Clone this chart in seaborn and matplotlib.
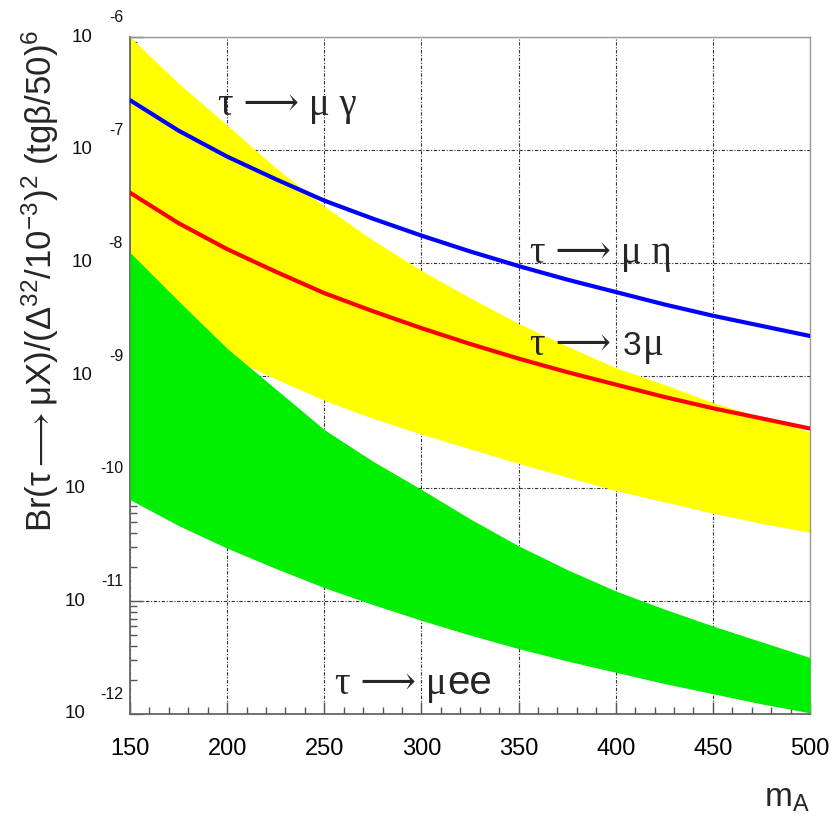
import numpy as np
import pandas as pd
import matplotlib
matplotlib.use("Agg")
import matplotlib.pyplot as plt
import matplotlib.ticker as mticker
import seaborn as sns

# masa m_A i log10 vrijednosti ocitane sa slike
m_A = [150, 175, 200, 225, 250, 275, 300, 325, 350, 375, 400, 425, 450, 475, 500]

mu_eta_log = [-6.56, -6.83, -7.06, -7.26, -7.45, -7.61, -7.76, -7.90, -8.03, -8.15, -8.26, -8.37, -8.47, -8.56, -8.65]
three_mu_log = [-7.38, -7.65, -7.88, -8.08, -8.27, -8.43, -8.58, -8.72, -8.85, -8.97, -9.08, -9.19, -9.29, -9.38, -9.47]

mu_gamma_hi = [-6.00, -6.41, -6.78, -7.16, -7.50, -7.80, -8.07, -8.31, -8.54, -8.74, -8.93, -9.08, -9.24, -9.37, -9.50]
mu_gamma_lo = [-8.33, -8.60, -8.83, -9.03, -9.22, -9.38, -9.52, -9.65, -9.78, -9.90, -10.02, -10.12, -10.22, -10.31, -10.39]

mu_ee_hi = [-7.91, -8.34, -8.76, -9.12, -9.48, -9.76, -10.01, -10.27, -10.51, -10.72, -10.91, -11.07, -11.22, -11.36, -11.50]
mu_ee_lo = [-10.10, -10.33, -10.53, -10.71, -10.88, -11.03, -11.17, -11.30, -11.42, -11.53, -11.63, -11.73, -11.82, -11.91, -11.99]

x_ticks = [150, 200, 250, 300, 350, 400, 450, 500]
y_decades = [-6, -7, -8, -9, -10, -11, -12]

df = pd.DataFrame({
    "m_A": m_A,
    "mu_eta": 10.0 ** np.array(mu_eta_log),
    "three_mu": 10.0 ** np.array(three_mu_log),
    "gam_hi": 10.0 ** np.array(mu_gamma_hi),
    "gam_lo": 10.0 ** np.array(mu_gamma_lo),
    "ee_hi": 10.0 ** np.array(mu_ee_hi),
    "ee_lo": 10.0 ** np.array(mu_ee_lo),
})

sns.set_theme(style="white")
plt.rcParams["font.family"] = ["Liberation Sans", "DejaVu Sans"]
plt.rcParams["mathtext.fontset"] = "custom"
plt.rcParams["mathtext.rm"] = "Liberation Sans"
plt.rcParams["mathtext.it"] = "Liberation Sans:italic"
plt.rcParams["mathtext.sf"] = "Liberation Sans"
plt.rcParams["mathtext.fallback"] = "stixsans"

SERIF = ["Liberation Serif", "DejaVu Serif", "DejaVu Sans"]
SANS = ["Liberation Sans", "DejaVu Sans"]

fig = plt.figure(figsize=(8.35, 8.23), dpi=100)
ax = fig.add_axes([130 / 835, 1 - 714 / 823, 680 / 835, 677 / 823])

ax.set_yscale("log")
ax.set_xlim(150, 500)
ax.set_ylim(1e-12, 1e-6)

# pojasevi
ax.fill_between(df["m_A"], df["gam_lo"], df["gam_hi"], color="#ffff00", lw=0, zorder=2)
ax.fill_between(df["m_A"], df["ee_lo"], df["ee_hi"], color="#00ee00", lw=0, zorder=3)

# krivulje
sns.lineplot(data=df, x="m_A", y="mu_eta", color="#0000ff", lw=3, ax=ax, zorder=4)
sns.lineplot(data=df, x="m_A", y="three_mu", color="#ff0000", lw=3, ax=ax, zorder=4)

# grid
ax.set_xticks(x_ticks)
ax.xaxis.set_minor_locator(mticker.MultipleLocator(10))
ax.yaxis.set_major_locator(mticker.LogLocator(base=10, numticks=20))
ax.yaxis.set_minor_locator(mticker.LogLocator(base=10, subs=np.arange(2, 10), numticks=20))
ax.grid(True, which="major", color="#333333", lw=0.8, linestyle=(0, (3, 1.5, 1, 1.5)), zorder=1)
ax.set_axisbelow(True)

ax.tick_params(axis="both", which="both", direction="in", colors="#555555",
               top=False, right=False, left=True, bottom=True)
ax.tick_params(axis="x", which="major", length=9, width=1, pad=17, labelsize=17, labelcolor="black")
ax.tick_params(axis="x", which="minor", length=5, width=1)
ax.tick_params(axis="y", which="major", length=9, width=1, labelleft=False)
ax.tick_params(axis="y", which="minor", length=5, width=1, labelleft=False)
ax.set_xlabel("")
ax.set_ylabel("")

for side in ["left", "bottom"]:
    ax.spines[side].set_color("#666666")
    ax.spines[side].set_linewidth(1.3)
for side in ["top", "right"]:
    ax.spines[side].set_color("#999999")
    ax.spines[side].set_linewidth(1.0)

# oznake y osi u ROOT stilu: 10 i eksponent iznad
for d in y_decades:
    exp = str(d)
    ax.annotate(exp, xy=(0, 10.0 ** d), xycoords=("axes fraction", "data"),
                xytext=(-5, 14), textcoords="offset points",
                ha="right", va="center", fontsize=11.5, color="#111111")
    off = -27 if len(exp) == 2 else -32
    ax.annotate("10", xy=(0, 10.0 ** d), xycoords=("axes fraction", "data"),
                xytext=(off, 0), textcoords="offset points",
                ha="right", va="center", fontsize=13.5, color="#111111")


# natpisi: grcka slova serif, latinica sans (kao ROOT)
def nastavi(prev, txt, y, dx, family, size):
    return ax.annotate(txt, xy=(1, y), xycoords=(prev, "data"),
                       xytext=(dx, 0), textcoords="offset points",
                       ha="left", va="baseline", fontsize=size, family=family, zorder=5)


ax.text(195.4, 10 ** -6.69, "τ ⟶ μ γ", fontsize=28, family=SERIF, ha="left", va="baseline", zorder=5)
ax.text(356, 10 ** -8.00, "τ ⟶ μ η", fontsize=28, family=SERIF, ha="left", va="baseline", zorder=5)

t1 = ax.text(356, 10 ** -8.82, "τ ⟶", fontsize=28, family=SERIF, ha="left", va="baseline", zorder=5)
t2 = nastavi(t1, "3", 10 ** -8.82, 8, SANS, 24)
nastavi(t2, "μ", 10 ** -8.82, 1, SERIF, 28)

t3 = ax.text(255.6, 10 ** -11.82, "τ ⟶ μ", fontsize=28, family=SERIF, ha="left", va="baseline", zorder=5)
nastavi(t3, "ee", 10 ** -11.82, 0.5, SANS, 29)

fig.text(40 / 835, 1 - 30 / 823,
         r"Br(τ$\longrightarrow$μX)/(Δ$^{32}$/10$^{-3}$)$^{2}$ (tgβ/50)$^{6}$",
         rotation=90, ha="center", va="top", fontsize=25)
fig.text(810 / 835, 1 - 807 / 823, r"m$_{\mathregular{A}}$", ha="right", va="baseline", fontsize=24)

fig.savefig("out.png", dpi=100)
